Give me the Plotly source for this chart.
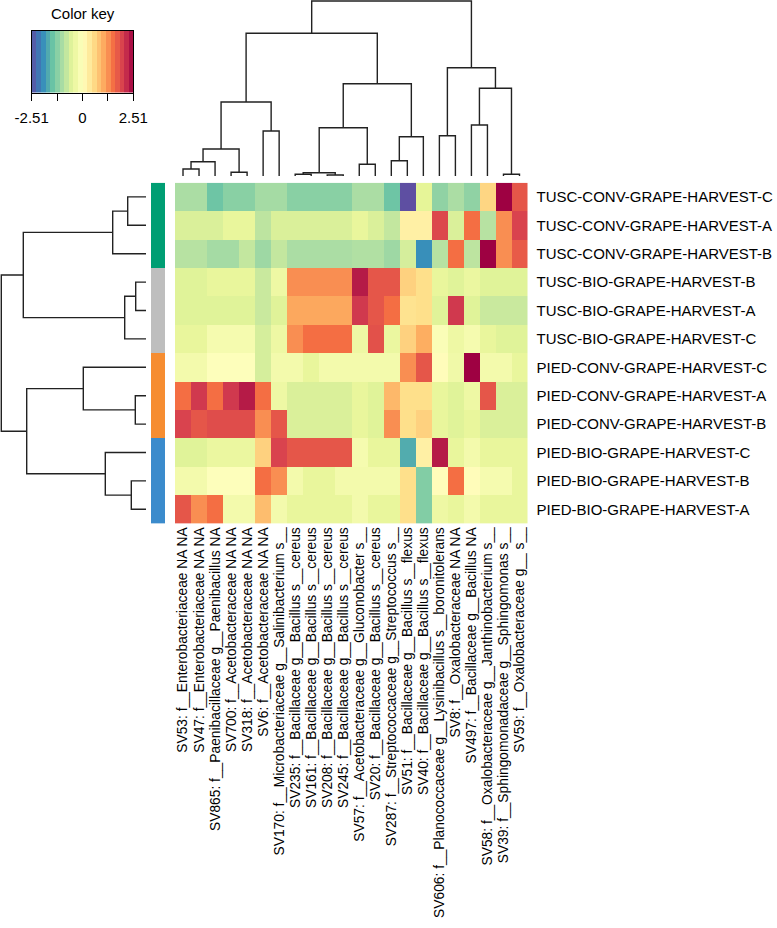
import plotly.graph_objects as go

W, H = 777, 928

samples = [
    "TUSC-CONV-GRAPE-HARVEST-C", "TUSC-CONV-GRAPE-HARVEST-A", "TUSC-CONV-GRAPE-HARVEST-B",
    "TUSC-BIO-GRAPE-HARVEST-B", "TUSC-BIO-GRAPE-HARVEST-A", "TUSC-BIO-GRAPE-HARVEST-C",
    "PIED-CONV-GRAPE-HARVEST-C", "PIED-CONV-GRAPE-HARVEST-A", "PIED-CONV-GRAPE-HARVEST-B",
    "PIED-BIO-GRAPE-HARVEST-C", "PIED-BIO-GRAPE-HARVEST-B", "PIED-BIO-GRAPE-HARVEST-A",
]

taxa = [
    "SV53: f__Enterobacteriaceae NA NA",
    "SV47: f__Enterobacteriaceae NA NA",
    "SV865: f__Paenibacillaceae g__Paenibacillus NA",
    "SV700: f__Acetobacteraceae NA NA",
    "SV318: f__Acetobacteraceae NA NA",
    "SV6: f__Acetobacteraceae NA NA",
    "SV170: f__Microbacteriaceae g__Salinibacterium s__",
    "SV235: f__Bacillaceae g__Bacillus s__cereus",
    "SV161: f__Bacillaceae g__Bacillus s__cereus",
    "SV208: f__Bacillaceae g__Bacillus s__cereus",
    "SV245: f__Bacillaceae g__Bacillus s__cereus",
    "SV57: f__Acetobacteraceae g__Gluconobacter s__",
    "SV20: f__Bacillaceae g__Bacillus s__cereus",
    "SV287: f__Streptococcaceae g__Streptococcus s__",
    "SV51: f__Bacillaceae g__Bacillus s__flexus",
    "SV40: f__Bacillaceae g__Bacillus s__flexus",
    "SV606: f__Planococcaceae g__Lysinibacillus s__boronitolerans",
    "SV8: f__Oxalobacteraceae NA NA",
    "SV497: f__Bacillaceae g__Bacillus NA",
    "SV58: f__Oxalobacteraceae g__Janthinobacterium s__",
    "SV39: f__Sphingomonadaceae g__Sphingomonas s__",
    "SV59: f__Oxalobacteraceae g__ s__",
]

# row-scaled abundance (z-scores), rows in displayed order
z_tusc_conv_c = [-1.0, -1.0, -1.45, -1.25, -1.25, -1.05, -1.05, -1.25, -1.25, -1.25, -1.25,
                 -1.0, -1.0, -1.45, -2.51, -0.5, -1.2, -1.0, -1.2, 0.6, 2.51, 1.75]
z_tusc_conv_a = [-0.6, -0.6, -0.6, -0.45, -0.45, -0.85, -0.6, -0.6, -0.6, -0.6, -0.6,
                 -0.45, -0.6, -0.8, 0.25, 0.25, 1.9, -0.6, 1.5, -0.9, 1.25, 1.95]
z_tusc_conv_b = [-0.9, -0.9, -1.05, -1.05, -0.8, -1.1, -0.8, -1.0, -1.0, -1.0, -1.0,
                 -0.95, -0.95, -1.1, -0.65, -1.95, -0.9, 1.5, -0.85, 2.51, 1.25, 1.7]
z_tusc_bio_b = [-0.55, -0.55, -0.45, -0.45, -0.45, -0.75, -0.35, 1.25, 1.25, 1.25, 1.25,
                2.3, 1.75, 1.75, 0.65, 0.5, -0.45, -0.55, -0.4, -0.55, -0.55, -0.55]
z_tusc_bio_a = [-0.55, -0.55, -0.55, -0.55, -0.55, -0.75, -0.55, 1.05, 1.05, 1.05, 1.05,
                2.05, 1.75, 1.5, 0.45, 0.5, -0.55, 2.05, -0.55, -0.75, -0.75, -0.75]
z_tusc_bio_c = [-0.45, -0.45, -0.2, -0.2, -0.2, -0.65, -0.35, 1.25, 1.5, 1.5, 1.5,
                -0.35, 1.8, -0.4, 0.65, 1.0, -0.1, -0.35, -0.2, -0.45, -0.55, -0.55]
z_pied_conv_c = [-0.25, -0.25, -0.05, -0.05, -0.05, -0.65, -0.25, -0.25, -0.45, -0.25, -0.25,
                 -0.25, -0.25, -0.25, 1.25, 1.75, 0.05, -0.3, 2.51, -0.25, -0.25, -0.45]
z_pied_conv_a = [1.5, 2.05, 1.5, 2.05, 2.3, 1.5, -0.35, -0.6, -0.6, -0.6, -0.6,
                 -0.45, -0.55, 0.9, 0.5, 0.5, -0.45, -0.55, -0.35, 1.75, -0.6, -0.6]
z_pied_conv_b = [1.95, 1.75, 1.85, 1.85, 1.85, 1.25, 1.75, -0.6, -0.6, -0.6, -0.6,
                 -0.45, -0.55, 1.25, 0.5, 0.65, -0.45, -0.55, -0.45, -0.6, -0.6, -0.6]
z_pied_bio_c = [-0.55, -0.55, -0.4, -0.4, -0.4, 0.65, 1.95, 1.75, 1.75, 1.75, 1.75,
                -0.2, -0.45, -0.45, -1.7, 0.25, 2.3, -0.45, -0.25, -0.45, -0.45, -0.45]
z_pied_bio_b = [-0.25, -0.25, -0.05, -0.05, -0.05, 1.5, 1.25, -0.25, -0.45, -0.45, -0.25,
                -0.25, -0.25, -0.25, 0.5, -1.3, 0.05, 1.5, 0.05, -0.2, -0.2, -0.45]
z_pied_bio_a = [1.75, 1.25, 1.5, -0.25, -0.25, 0.85, -0.25, -0.45, -0.45, -0.45, -0.45,
                -0.25, -0.45, -0.45, 0.5, -1.3, -0.35, -0.45, -0.25, -0.45, -0.45, -0.45]

z_rows = [z_tusc_conv_c, z_tusc_conv_a, z_tusc_conv_b, z_tusc_bio_b, z_tusc_bio_a, z_tusc_bio_c,
          z_pied_conv_c, z_pied_conv_a, z_pied_conv_b, z_pied_bio_c, z_pied_bio_b, z_pied_bio_a]

row_groups = [0, 0, 0, 1, 1, 1, 2, 2, 2, 3, 3, 3]
group_colors = ["#009E73", "#BEBEBE", "#F68D31", "#3B8BCC"]

key_min, key_max = -2.51, 2.51
key_ticks = [-2.51, -1.255, 0, 1.255, 2.51]
key_labels = ["-2.51", "", "0", "", "2.51"]
n_key_bins = 22

# hclust-style merges: negative = leaf position (1-based), positive = earlier merge
col_merges = [(-1, -2, 7.0), (1, -3, 14.3), (-4, -5, 3.7), (2, 3, 27.0), (-6, -7, 45.0),
              (4, 5, 74.0), (-8, -9, 1.7), (-10, -11, 1.0), (7, 8, 3.3), (-12, -13, 11.7),
              (9, 10, 48.3), (-14, -15, 15.3), (12, -16, 39.3), (11, 13, 92.3), (6, 14, 142.7),
              (-17, -18, 40.3), (-19, -20, 51.0), (-21, -22, 1.7), (17, 18, 87.7),
              (16, 19, 108.3), (15, 20, 175.0)]
row_merges = [(-1, -2, 18.3), (1, -3, 33.3), (-4, -5, 10.3), (3, -6, 21.3), (2, 4, 122.7),
              (-8, -9, 10.7), (-7, 6, 62.7), (-11, -12, 14.7), (-10, 8, 40.7), (7, 9, 119.3),
              (5, 10, 144.7)]

spectral = ["#5E4FA2", "#3288BD", "#66C2A5", "#ABDDA4", "#E6F598", "#FFFFBF",
            "#FEE08B", "#FDAE61", "#F46D43", "#D53E4F", "#9E0142"]
colorscale = [[i / 10, c] for i, c in enumerate(spectral)]


def px_x(p):
    return p / W


def px_y(p):
    return 1 - p / H


def dendro(merges):
    nodes = {}
    pos, hts = [], []
    for i, (a, b, h) in enumerate(merges, start=1):
        ends = []
        for c in (a, b):
            if c < 0:
                ends.append((-c - 1, 0.0))
            else:
                ends.append(nodes[c])
        (pa, ha), (pb, hb) = ends
        pos += [pa, pa, pb, pb, None]
        hts += [ha, h, h, hb, None]
        nodes[i] = ((pa + pb) / 2, h)
    return pos, hts


cpos, chts = dendro(col_merges)
rpos, rhts = dendro(row_merges)

# bin centres of the colour key scale
step = (key_max - key_min) / n_key_bins
key_bins = [key_min + (i + 0.5) * step for i in range(n_key_bins)]

n_col = len(taxa)
n_row = len(samples)
font = "Arial, 'Liberation Sans', sans-serif"

fig = go.Figure()

fig.add_trace(go.Heatmap(
    z=z_rows, x=list(range(n_col)), y=list(range(n_row)),
    colorscale=colorscale, zmin=key_min, zmax=key_max, showscale=False,
    xaxis="x", yaxis="y",
))

fig.add_trace(go.Heatmap(
    z=[[g] for g in row_groups], x=[0], y=list(range(n_row)),
    colorscale=[[0, group_colors[0]], [0.25, group_colors[0]], [0.25, group_colors[1]],
                [0.5, group_colors[1]], [0.5, group_colors[2]], [0.75, group_colors[2]],
                [0.75, group_colors[3]], [1, group_colors[3]]],
    zmin=-0.5, zmax=3.5, showscale=False, xaxis="x4", yaxis="y",
))

fig.add_trace(go.Scatter(x=cpos, y=chts, mode="lines", xaxis="x", yaxis="y2",
                         line=dict(color="#222222", width=1.4), hoverinfo="skip"))
fig.add_trace(go.Scatter(x=rhts, y=rpos, mode="lines", xaxis="x3", yaxis="y",
                         line=dict(color="#222222", width=1.4), hoverinfo="skip"))

# colour key
fig.add_trace(go.Heatmap(
    z=[key_bins], x=key_bins, y=[0],
    colorscale=colorscale, zmin=key_min, zmax=key_max, showscale=False,
    xaxis="x5", yaxis="y5",
))

hidden = dict(showgrid=False, zeroline=False, showticklabels=False, ticks="",
              showline=False, automargin=False)

fig.update_layout(
    template="none",
    width=W, height=H, margin=dict(l=0, r=0, t=0, b=0, autoexpand=False),
    paper_bgcolor="white", plot_bgcolor="white", showlegend=False,
    font=dict(family=font, size=15, color="black"),
    xaxis=dict(domain=[px_x(175), px_x(527.5)], range=[-0.5, n_col - 0.5],
               tickvals=list(range(n_col)), ticktext=taxa, tickangle=-90,
               showgrid=False, zeroline=False, ticks="", ticklabelstandoff=0,
               showline=False, automargin=False, tickfont=dict(size=13.8)),
    yaxis=dict(domain=[px_y(523.5), px_y(182.7)], range=[n_row - 0.5, -0.5],
               tickvals=list(range(n_row)), ticktext=samples, side="right",
               showgrid=False, zeroline=False, ticks="", ticklabelstandoff=8,
               showline=False, automargin=False, tickfont=dict(size=15)),
    yaxis2=dict(domain=[px_y(176), 1], range=[0, 176], anchor="x", **hidden),
    xaxis3=dict(domain=[0, px_x(146)], range=[146, 0], anchor="y", **hidden),
    xaxis4=dict(domain=[px_x(151), px_x(165)], range=[-0.5, 0.5], anchor="y", **hidden),
    xaxis5=dict(domain=[px_x(31.7), px_x(133.3)], range=[key_min, key_max], anchor="y5",
                tickvals=key_ticks, ticktext=key_labels, ticks="outside", ticklen=7,
                tickcolor="black", tickwidth=1, showgrid=False, zeroline=False,
                showline=True, mirror=True, linecolor="black", linewidth=1,
                automargin=False, ticklabelstandoff=4, tickfont=dict(size=15)),
    yaxis5=dict(domain=[px_y(92.7), px_y(30.7)], range=[-0.5, 0.5], anchor="x5",
                showgrid=False, zeroline=False, showticklabels=False, ticks="",
                showline=True, mirror=True, linecolor="black", linewidth=1,
                automargin=False),
    annotations=[dict(text="Color key", x=px_x(82.5), y=px_y(14), xref="paper", yref="paper",
                      xanchor="center", yanchor="middle", showarrow=False,
                      font=dict(size=15, color="black"))],
)

# the page's default body margin would push the 777x928 figure off the window
fig.write_html("out.html", config={"displayModeBar": False},
               post_script="document.body.style.margin = '0';")
